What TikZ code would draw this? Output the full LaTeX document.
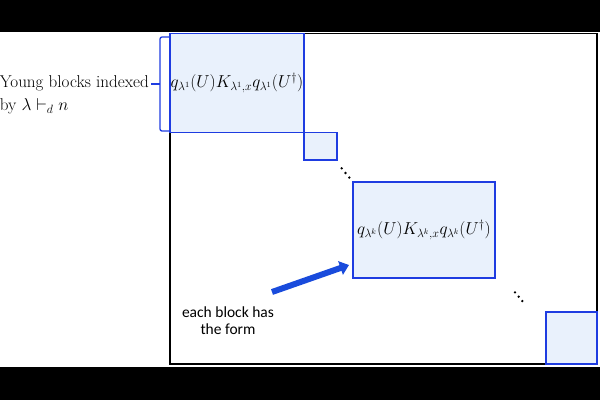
\documentclass[tikz,border=0pt]{standalone}
\usepackage{fontspec}
\newfontfamily\calib{Carlito}
\usepackage{amsmath,amssymb}
\usetikzlibrary{arrows.meta}
\definecolor{bfill}{RGB}{233,241,252}
\definecolor{bline}{RGB}{30,60,225}
\definecolor{arr}{RGB}{25,75,220}
\begin{document}
\begin{tikzpicture}[x=1pt,y=-1pt,
  blk/.style={draw=bline,fill=bfill,line width=1.3pt,inner sep=0pt,outer sep=0pt,anchor=north west},
  lbl/.style={font=\fontsize{16.4}{19}\selectfont,inner sep=0pt},
  dot/.style={fill=black,circle,inner sep=0pt,minimum size=2.6pt}]
\useasboundingbox (0,0) rectangle (600,400);
\fill[black] (0,0) rectangle (600,32);
\fill[black] (0,367) rectangle (600,400);
\draw[line width=1.3pt] (170,33.5) rectangle (597,364);
\node[blk,minimum width=134pt,minimum height=99pt] (b1) at (170,33.5) {};
\node[lbl] (t1) at (b1.center) {$q_{\lambda^1}(U)K_{\lambda^1,x}q_{\lambda^1}(U^\dagger)$};
\node[blk,minimum width=33pt,minimum height=27.5pt] (b2) at (b1.south east) {};
\node[blk,minimum width=142pt,minimum height=96pt] (bk) at (353,182) {};
\node[lbl] (tk) at (bk.center) {$q_{\lambda^k}(U)K_{\lambda^k,x}q_{\lambda^k}(U^\dagger)$};
\node[blk,minimum width=51pt,minimum height=52pt] (bl) at (546,312) {};
\node[dot] (d1a) at (341.7,168.3) {};
\node[dot] (d1b) at (345.5,173) {};
\node[dot] (d1c) at (349.3,177.5) {};
\node[dot] (d2a) at (515,292.3) {};
\node[dot] (d2b) at (518.7,296.7) {};
\node[dot] (d2c) at (522.3,301) {};
\draw[bline,line width=1.3pt,rounded corners=2pt] (170,37) -- (160,37) -- (160,131) -- (170,131);
\coordinate (bm) at (160,84);
\draw[bline,line width=1.3pt] (bm) -- ++(-9,0) coordinate (bt);
\node[font=\fontsize{17.1}{23}\selectfont,align=left,anchor=east,inner sep=0pt] (yt) at (149,95)
  {Young blocks indexed\\by $\lambda\vdash_d n$};
\node[font=\calib\fontsize{15.5}{17}\selectfont,align=center,inner sep=0pt] (eb) at (228,321) {each block has\\the form};
\coordinate (as) at (272,292);
\draw[arr,line width=6pt,-{Triangle[length=9pt,width=14pt]}] (as) -- (349,265);
\end{tikzpicture}
\end{document}
